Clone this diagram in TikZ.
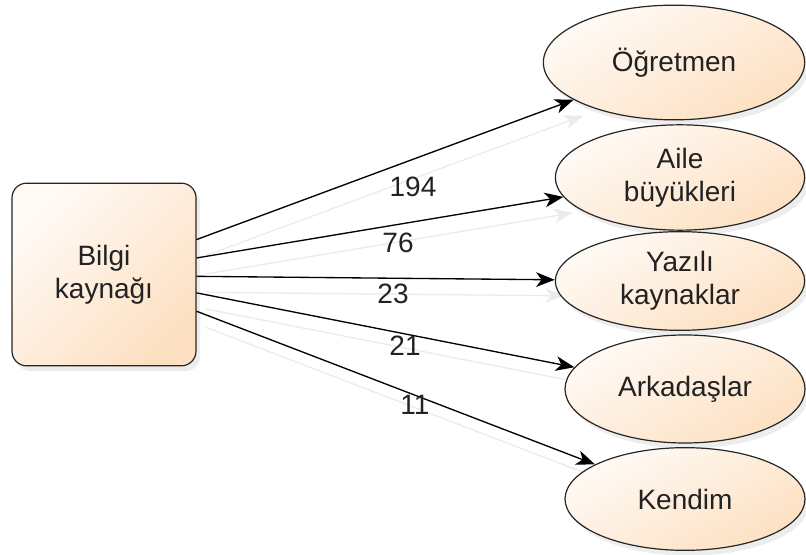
\documentclass[tikz,border=0pt]{standalone}
\usepackage{fontspec}
\setmainfont{Liberation Sans}
\usetikzlibrary{arrows.meta,calc,shapes.geometric,shadows,backgrounds}
\definecolor{peach}{HTML}{FDE0C2}
\definecolor{cream}{HTML}{FFFAF5}
\definecolor{inkgray}{HTML}{222222}
\definecolor{shadegray}{HTML}{EBEBEB}

\begin{document}
\begin{tikzpicture}[
    x=0.75pt, y=-0.75pt,
    >=Stealth,
    every node/.style={font=\fontsize{21}{25}\selectfont, text=inkgray, align=center},
    src/.style={draw=black!85, line width=0.9pt, rounded corners=11pt,
      minimum width=138pt, minimum height=137pt, inner sep=0pt,
      top color=cream, bottom color=peach, shading angle=45,
      drop shadow={shadow xshift=3pt, shadow yshift=-4pt, fill=black, opacity=0.07}},
    tgt/.style={ellipse, draw=black!85, line width=0.9pt, inner sep=0pt,
      top color=cream, bottom color=peach, shading angle=30,
      drop shadow={shadow xshift=3pt, shadow yshift=-4pt, fill=black, opacity=0.07}},
    conn/.style={-{Stealth[length=14pt,width=11pt,inset=4pt]}, line width=1pt, black},
    conshadow/.style={-{Stealth[length=14pt,width=11pt,inset=4pt]}, line width=1pt, shadegray},
    lbl/.style={inner sep=1pt}
  ]
  \useasboundingbox (0,0) rectangle (806,555);

  % Source
  \node[src] (src) at (104,274.5) {Bilgi\\kaynağı};

  % Targets
  \node[tgt, minimum width=196pt, minimum height=86pt] (ogr) at (674,62.5) {Öğretmen};
  \node[tgt, minimum width=187pt, minimum height=79pt] (aile) at (680,177.5) {Aile\\büyükleri};
  \node[tgt, minimum width=187pt, minimum height=74pt] (yazili) at (680,281) {Yazılı\\kaynaklar};
  \node[tgt, minimum width=180pt, minimum height=81pt] (ark) at (685,389) {Arkadaşlar};
  \node[tgt, minimum width=180pt, minimum height=77pt] (kendim) at (685,499) {Kendim};

  % Start points on the box
  \coordinate (s1) at ($(src.north east)!0.31!(src.south east)$);
  \coordinate (s2) at ($(src.north east)!0.41!(src.south east)$);
  \coordinate (s3) at ($(src.north east)!0.51!(src.south east)$);
  \coordinate (s4) at ($(src.north east)!0.60!(src.south east)$);
  \coordinate (s5) at ($(src.north east)!0.70!(src.south east)$);

  % Connector shadows, behind everything
  \begin{pgfonlayer}{background}
    \begin{scope}[transform canvas={shift={(7pt,-12pt)}}]
      \draw[conshadow] (s1) -- (ogr);
      \draw[conshadow] (s2) -- (aile);
      \draw[conshadow] (s3) -- (yazili);
      \draw[conshadow] (s4) -- (ark);
      \draw[conshadow] (s5) -- (kendim);
    \end{scope}
  \end{pgfonlayer}

  % Connectors
  \draw[conn] (s1) -- (ogr);
  \draw[conn] (s2) -- (aile);
  \draw[conn] (s3) -- (yazili);
  \draw[conn] (s4) -- (ark);
  \draw[conn] (s5) -- (kendim);

  % Counts
  \node[lbl] (n194) at (413,187) {194};
  \node[lbl] (n76) at (398,243) {76};
  \node[lbl] (n23) at (393,294) {23};
  \node[lbl] (n21) at (405,346) {21};
  \node[lbl] (n11) at (415,405) {11};
\end{tikzpicture}
\end{document}
